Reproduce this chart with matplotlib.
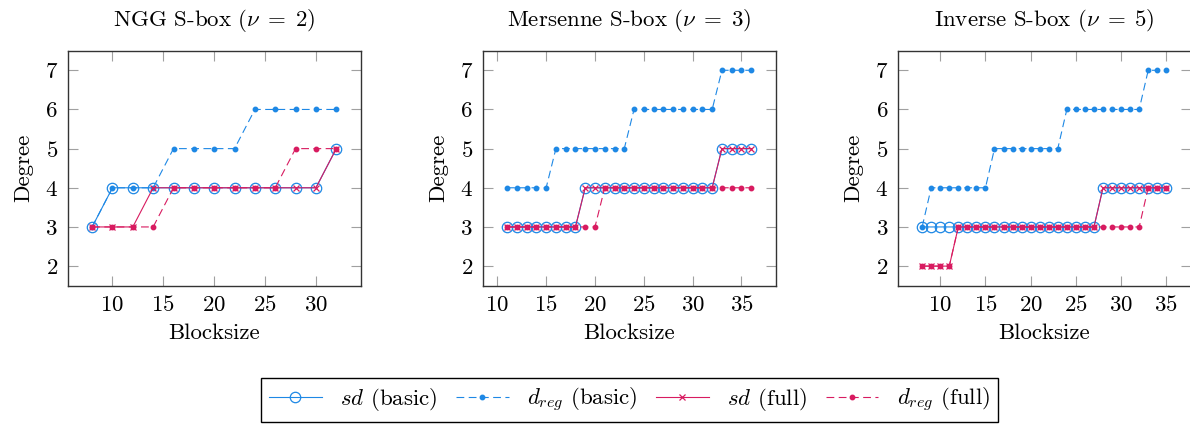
import matplotlib
matplotlib.use("Agg")
import matplotlib.pyplot as plt

plt.rcParams['font.family'] = 'serif'
plt.rcParams['font.serif'] = ['cmr10', 'DejaVu Serif']
plt.rcParams['mathtext.fontset'] = 'cm'
plt.rcParams['axes.formatter.use_mathtext'] = True
plt.rcParams['axes.unicode_minus'] = False

BLUE = '#1E88E5'
RED = '#D81B60'

# ---------------- data ----------------
titles = [r'NGG S-box $(\nu\;=\;2)$', r'Mersenne S-box $(\nu\;=\;3)$', r'Inverse S-box $(\nu\;=\;5)$']

x_ngg = [8, 10, 12, 14, 16, 18, 20, 22, 24, 26, 28, 30, 32]
sd_basic_ngg = [3, 4, 4, 4, 4, 4, 4, 4, 4, 4, 4, 4, 5]
dreg_basic_ngg = [3, 4, 4, 4, 5, 5, 5, 5, 6, 6, 6, 6, 6]
sd_full_ngg = [3, 3, 3, 4, 4, 4, 4, 4, 4, 4, 4, 4, 5]
dreg_full_ngg = [3, 3, 3, 3, 4, 4, 4, 4, 4, 4, 5, 5, 5]

x_mer = [11, 12, 13, 14, 15, 16, 17, 18, 19, 20, 21, 22, 23, 24, 25, 26, 27, 28,
         29, 30, 31, 32, 33, 34, 35, 36]
sd_basic_mer = [3, 3, 3, 3, 3, 3, 3, 3, 4, 4, 4, 4, 4, 4, 4, 4, 4, 4,
                4, 4, 4, 4, 5, 5, 5, 5]
dreg_basic_mer = [4, 4, 4, 4, 4, 5, 5, 5, 5, 5, 5, 5, 5, 6, 6, 6, 6, 6,
                  6, 6, 6, 6, 7, 7, 7, 7]
sd_full_mer = [3, 3, 3, 3, 3, 3, 3, 3, 4, 4, 4, 4, 4, 4, 4, 4, 4, 4,
               4, 4, 4, 4, 5, 5, 5, 5]
dreg_full_mer = [3, 3, 3, 3, 3, 3, 3, 3, 3, 3, 4, 4, 4, 4, 4, 4, 4, 4,
                 4, 4, 4, 4, 4, 4, 4, 4]

x_inv = [8, 9, 10, 11, 12, 13, 14, 15, 16, 17, 18, 19, 20, 21, 22, 23, 24, 25,
         26, 27, 28, 29, 30, 31, 32, 33, 34, 35]
sd_basic_inv = [3, 3, 3, 3, 3, 3, 3, 3, 3, 3, 3, 3, 3, 3, 3, 3, 3, 3,
                3, 3, 4, 4, 4, 4, 4, 4, 4, 4]
dreg_basic_inv = [3, 4, 4, 4, 4, 4, 4, 4, 5, 5, 5, 5, 5, 5, 5, 5, 6, 6,
                  6, 6, 6, 6, 6, 6, 6, 7, 7, 7]
sd_full_inv = [2, 2, 2, 2, 3, 3, 3, 3, 3, 3, 3, 3, 3, 3, 3, 3, 3, 3,
               3, 3, 4, 4, 4, 4, 4, 4, 4, 4]
dreg_full_inv = [2, 2, 2, 2, 3, 3, 3, 3, 3, 3, 3, 3, 3, 3, 3, 3, 3, 3,
                 3, 3, 3, 3, 3, 3, 3, 4, 4, 4]

xticks_list = [[10, 15, 20, 25, 30], [10, 15, 20, 25, 30, 35], [10, 15, 20, 25, 30, 35]]
yticks = [2, 3, 4, 5, 6, 7]
legend_labels = [r'$sd$ (basic)', r'$d_{reg}$ (basic)', r'$sd$ (full)', r'$d_{reg}$ (full)']

panels = [
    (x_ngg, sd_basic_ngg, dreg_basic_ngg, sd_full_ngg, dreg_full_ngg),
    (x_mer, sd_basic_mer, dreg_basic_mer, sd_full_mer, dreg_full_mer),
    (x_inv, sd_basic_inv, dreg_basic_inv, sd_full_inv, dreg_full_inv),
]

FS = 16.5
fig = plt.figure(figsize=(11.9, 4.24), dpi=100)
lefts = [0.0569, 0.4056, 0.7544]
W, B, H = 0.2462, 0.3262, 0.5542

handles = None
for i, (xs, sdb, drb, sdf, drf) in enumerate(panels):
    ax = fig.add_axes([lefts[i], B, W, H])
    span = xs[-1] - xs[0]
    ax.set_xlim(xs[0] - 0.1 * span, xs[-1] + 0.1 * span)
    ax.set_ylim(1.5, 7.5)
    h1, = ax.plot(xs, sdb, '-', color=BLUE, lw=0.8, marker='o', ms=7.5,
                  mfc='none', mec=BLUE, mew=0.9, label=legend_labels[0])
    h2, = ax.plot(xs, drb, '--', color=BLUE, lw=0.8, dashes=(7, 4), marker='o', ms=3.2,
                  mfc=BLUE, mec=BLUE, label=legend_labels[1])
    h3, = ax.plot(xs, sdf, '-', color=RED, lw=0.8, marker='x', ms=4.5,
                  mec=RED, mew=0.9, label=legend_labels[2])
    h4, = ax.plot(xs, drf, '--', color=RED, lw=0.8, dashes=(7, 4), marker='o', ms=3.2,
                  mfc=RED, mec=RED, label=legend_labels[3])
    handles = [h1, h2, h3, h4]
    ax.set_xticks(xticks_list[i])
    ax.set_yticks(yticks)
    ax.tick_params(direction='in', length=7.5, width=0.8, color='#a0a0a0',
                   top=True, right=True, labelsize=FS, pad=7)
    for s in ax.spines.values():
        s.set_linewidth(1.0)
        s.set_color('#333333')
    ax.set_title(titles[i], fontsize=FS, pad=18)
    ax.set_xlabel('Blocksize', fontsize=FS, labelpad=6)
    ax.set_ylabel('Degree', fontsize=FS, labelpad=8)

fig.legend(handles, legend_labels, loc='center', bbox_to_anchor=(0.529, 0.0566),
           ncol=4, fontsize=FS, frameon=True, fancybox=False, edgecolor='black',
           framealpha=1, handlelength=2.3, columnspacing=0.8, handletextpad=0.8,
           borderpad=0.35)

fig.savefig('out.png', dpi=100)
